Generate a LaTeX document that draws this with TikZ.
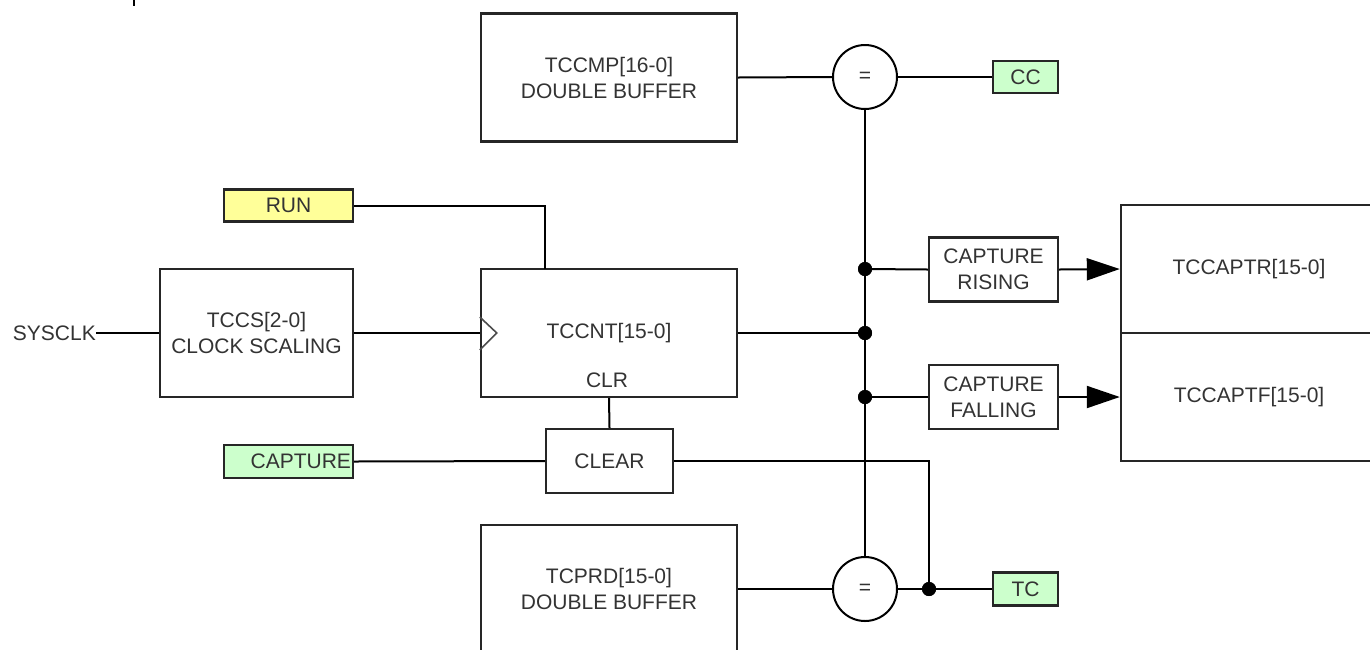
\documentclass[tikz,border=0pt]{standalone}
\usepackage{fontspec}
\setmainfont{Liberation Sans}
\usetikzlibrary{arrows.meta,calc}
\definecolor{lblyellow}{HTML}{FFFF99}
\definecolor{lblgreen}{HTML}{CCFFCC}
\definecolor{ink}{HTML}{333333}
\begin{document}
\begin{tikzpicture}[x=1pt,y=-1pt,
  every node/.style={font=\fontsize{21}{26}\selectfont, text=ink},
  wire/.style={draw=black, line width=2pt},
  blk/.style={draw=black!85, line width=2.4pt, fill=white, minimum width=256pt, minimum height=128pt, align=center, inner sep=0pt},
  smallblk/.style={draw=black!85, line width=2.4pt, fill=white, minimum width=129pt, minimum height=64pt, align=center, inner sep=0pt},
  lbl/.style={draw=black!85, line width=2.4pt, minimum width=129pt, minimum height=32pt, inner sep=1pt},
  cmpcirc/.style={circle, draw=black, line width=2pt, fill=white, minimum size=64pt, inner sep=0pt},
  dot/.style={circle, fill=black, minimum size=14pt, inner sep=0pt},
  bigtip/.style={-{Triangle[length=33pt,width=22pt]}}
]
\useasboundingbox (0,0) rectangle (1370,649);
\fill[white] (0,0) rectangle (1370,649);

% stray tick at top
\draw[line width=2pt] (134,0) -- (134,6);

% blocks
\node[blk] (tccmp) at (609,77.5) {TCCMP[16-0]\\DOUBLE BUFFER};
\node[blk, minimum width=193pt] (tccs) at (256.5,333) {TCCS[2-0]\\CLOCK SCALING};
\node[blk] (tccnt) at (609,333) {TCCNT[15-0]};
\node (clr) at (607,380) {CLR};
\node[smallblk, minimum width=127pt] (clear) at (609.5,461) {CLEAR};
\node[blk] (tcprd) at (609,589) {TCPRD[15-0]\\DOUBLE BUFFER};
\node[smallblk] (caprise) at (993.5,269.5) {CAPTURE\\RISING};
\node[smallblk] (capfall) at (993.5,397) {CAPTURE\\FALLING};
\node[blk] (tccaptr) at (1249,269) {TCCAPTR[15-0]};
\node[blk] (tccaptf) at (1249,397) {TCCAPTF[15-0]};

% labels
\node[lbl, fill=lblyellow] (run) at (288.5,205.5) {RUN};
\node[lbl, fill=lblgreen, minimum height=33pt, text width=125pt, align=right] (capture) at (288.5,461.5) {CAPTURE};
\node[lbl, fill=lblgreen, minimum width=65pt] (cc) at (1025.5,77) {CC};
\node[lbl, fill=lblgreen, minimum width=65pt, minimum height=33pt] (tc) at (1025.5,589) {TC};
\node[anchor=east, inner sep=0pt] (sysclk) at (96,333) {SYSCLK};

% comparators
\node[cmpcirc] (cmp1) at (865,77) {=};
\node[cmpcirc] (cmp2) at (865,589) {=};

% junction dots
\node[dot] (d1) at (865,269) {};
\node[dot] (d2) at (865,333) {};
\node[dot] (d3) at (865,397) {};
\node[dot] (d4) at (929,589) {};
\coordinate (runin) at (545,269);

% wires
\draw[wire] (tccmp.east) -- (cmp1.west);
\draw[wire] (cmp1.east) -- (cc.west);
\draw[wire] (cmp1.south) -- (cmp2.north);
\draw[wire] (d1) -- (caprise.west);
\draw[wire] (tccnt.east) -- (d2);
\draw[wire] (d3) -- (capfall.west);
\draw[wire, bigtip] (caprise.east) -- (tccaptr.west);
\draw[wire, bigtip] (capfall.east) -- (tccaptf.west);
\draw[wire] (sysclk.east) -- (tccs.west);
\draw[wire] (tccs.east) -- (tccnt.west);
\draw[wire] (run.east) -| (runin);
\draw[wire] (tccnt.south) -- (clear.north);
\draw[wire] (capture.east) -- (clear.west);
\draw[wire] (clear.east) -| (d4);
\draw[wire] (tcprd.east) -- (cmp2.west);
\draw[wire] (cmp2.east) -- (d4) -- (tc.west);

% clock input triangle
\draw[black!70, line width=1.6pt] ($(tccnt.west)+(0,-16)$) -- ++(17,16) -- ++(-17,17);

% redraw dots on top
\fill (865,269) circle (7pt) (865,333) circle (7pt) (865,397) circle (7pt) (929,589) circle (7pt);
\end{tikzpicture}
\end{document}
